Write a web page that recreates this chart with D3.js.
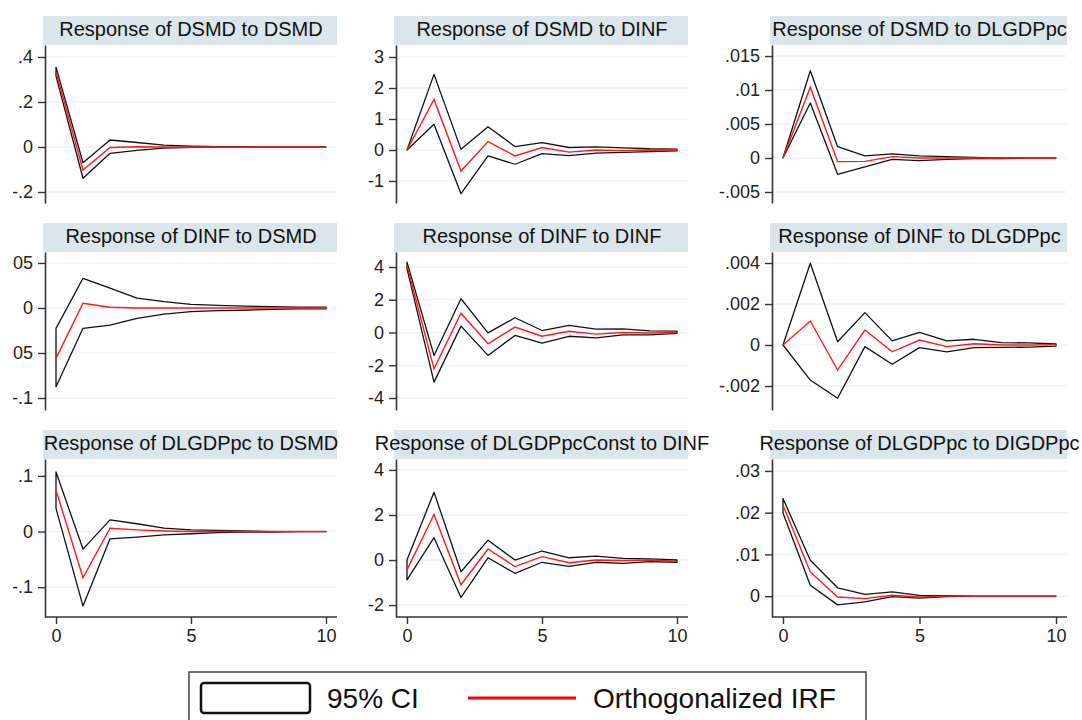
<!DOCTYPE html>
<html>
<head>
<meta charset="utf-8">
<script src="https://cdn.jsdelivr.net/npm/d3@7"></script>
<style>
  body { margin: 0; background: #fff; }
  svg { display: block; font-family: "Liberation Sans", Arial, sans-serif; }
</style>
</head>
<body>
<svg id="chart" width="1082" height="720"></svg>
<script>
// Steps of the impulse response
const steps = [0, 1, 2, 3, 4, 5, 6, 7, 8, 9, 10];

const titles = [
  "Response of DSMD to DSMD", "Response of DSMD to DINF", "Response of DSMD to DLGDPpc",
  "Response of DINF to DSMD", "Response of DINF to DINF", "Response of DINF to DLGDPpc",
  "Response of DLGDPpc to DSMD", "Response of DLGDPpcConst to DINF", "Response of DLGDPpc to DIGDPpc"
];

// Orthogonalized IRF, one list per panel
const oirf = [
  [.335, -.102, -.002, .001, 0, 0, 0, 0, 0, 0, 0],
  [0, 1.63, -.68, .27, -.19, .08, -.07, 0, -.02, 0, -.01],
  [0, .0104, -.00054, -.0005, .0002, 0, 0, 0, 0, 0, 0],
  [-.056, .0052, .0008, 0, 0, 0, 0, 0, 0, 0, 0],
  [4.1, -2.22, 1.18, -.69, .33, -.23, .08, -.1, 0, -.03, 0],
  [0, .00117, -.00122, .00073, -.00033, .00024, -.00008, .00006, 0, 0, .00002],
  [.0744, -.083, .006, .003, .001, 0, 0, 0, 0, 0, 0],
  [-.44, 2.02, -1.1, .49, -.29, .15, -.12, 0, -.02, 0, -.05],
  [.0218, .0058, -.0002, -.0006, .0002, -.0002, 0, 0, 0, 0, 0]
];

// 95% CI lower bound
const ciLower = [
  [.315, -.139, -.028, -.015, -.005, -.002, -.001, 0, 0, 0, 0],
  [0, .83, -1.41, -.19, -.46, -.12, -.18, -.1, -.08, -.05, -.03],
  [0, .0081, -.0024, -.0013, -.0002, -.0004, -.0002, -.0001, -.0001, 0, 0],
  [-.0874, -.0226, -.019, -.0115, -.0067, -.004, -.003, -.0025, -.0015, -.001, -.001],
  [3.9, -3.03, .39, -1.4, -.18, -.65, -.23, -.33, -.15, -.15, -.05],
  [0, -.00171, -.0026, -.00008, -.00094, -.00013, -.00033, -.00013, -.00012, -.0001, -.00005],
  [.0417, -.134, -.013, -.01, -.006, -.004, -.002, -.001, -.001, 0, 0],
  [-.88, .99, -1.66, .1, -.59, -.1, -.28, -.1, -.15, -.07, -.1],
  [.0199, .0026, -.0021, -.0014, -.0001, -.0005, -.0001, 0, 0, 0, 0]
];

// 95% CI upper bound
const ciUpper = [
  [.355, -.07, .031, .02, .008, .004, .002, .001, 0, 0, 0],
  [0, 2.44, .02, .75, .11, .24, .08, .1, .07, .04, .03],
  [0, .01284, .00166, .0003, .0006, .0003, .0002, .0001, 0, 0, 0],
  [-.0226, .033, .022, .011, .007, .004, .003, .002, .0015, .001, .001],
  [4.29, -1.4, 2.06, -.02, .9, .12, .43, .2, .22, .1, .08],
  [0, .00399, .00016, .00158, .0002, .00062, .0002, .00028, .00012, .0001, .00005],
  [.107, -.0315, .021, .014, .006, .003, .002, .001, 0, 0, 0],
  [0, 3.01, -.52, .88, 0, .4, .1, .17, .07, .05, 0],
  [.0234, .0086, .002, .0004, .001, .0002, .0001, 0, 0, 0, 0]
];

const yTicks = [
  [-.2, 0, .2, .4],
  [-1, 0, 1, 2, 3],
  [-.005, 0, .005, .01, .015],
  [-.1, -.05, 0, .05],
  [-4, -2, 0, 2, 4],
  [-.002, 0, .002, .004],
  [-.1, 0, .1],
  [-2, 0, 2, 4],
  [0, .01, .02, .03]
];

const yDomains = [
  [-.2489, .4533], [-1.71, 3.387], [-.00662, .01662],
  [-.1133, .0622], [-4.733, 4.916], [-.00317, .004537],
  [-.1536, .1304], [-2.53, 4.485], [-.005, .03286]
];

const xTicks = [0, 5, 10];
const legendLabels = ["95% CI", "Orthogonalized IRF"];

// Layout
const stripTop = [16, 223, 430];
const stripH = 29;
const plotH = 158;
const colAxisX = [45, 396, 772];
const colW = [292, 292, 295];
const colClipX = [13, 360, 718];
const inset = 11;

const svg = d3.select("#chart");

// Stata-like labels: ".4", "-.005"
function fmt(v) {
  if (v === 0) return "0";
  return String(+v.toPrecision(6)).replace(/^(-?)0\./, "$1.");
}

titles.forEach(function(title, i) {
  const row = Math.floor(i / 3), col = i % 3;
  const left = colAxisX[col], w = colW[col];
  const top = stripTop[row] + stripH;
  const bottom = top + plotH;

  const x = d3.scaleLinear().domain([0, 10]).range([left + inset, left + w - inset]);
  const y = d3.scaleLinear().domain(yDomains[i]).range([bottom, top]);

  const g = svg.append("g");

  // Title strip
  g.append("rect")
    .attr("x", left - 2).attr("y", stripTop[row])
    .attr("width", w + 2).attr("height", stripH)
    .attr("fill", "#dae6ec");
  g.append("text")
    .attr("x", left + w / 2).attr("y", stripTop[row] + 20)
    .attr("text-anchor", "middle")
    .attr("font-size", 20)
    .attr("fill", "#111")
    .text(title);

  // Gridlines
  g.selectAll(".grid")
    .data(yTicks[i])
    .join("line")
    .attr("x1", left).attr("x2", left + w)
    .attr("y1", d => y(d)).attr("y2", d => y(d))
    .attr("stroke", "#e8f0f2")
    .attr("stroke-width", 1.2);

  // CI band outline
  const band = steps.map((s, k) => ({ s: s, lo: ciLower[i][k], hi: ciUpper[i][k], v: oirf[i][k] }));
  g.append("path")
    .datum(band)
    .attr("d", d3.area().x(d => x(d.s)).y0(d => y(d.lo)).y1(d => y(d.hi)))
    .attr("fill", "none")
    .attr("stroke", "#111")
    .attr("stroke-width", 1.3)
    .attr("stroke-linejoin", "round");

  g.append("path")
    .datum(band)
    .attr("d", d3.line().x(d => x(d.s)).y(d => y(d.v)))
    .attr("fill", "none")
    .attr("stroke", "#ff1a1a")
    .attr("stroke-width", 1.4);

  // Y axis (labels clipped at the panel's left edge, as in the source graph)
  const clipId = "clip" + i;
  svg.append("clipPath").attr("id", clipId)
    .append("rect")
    .attr("x", colClipX[col]).attr("y", 0)
    .attr("width", 400).attr("height", 720);

  const ya = g.append("g")
    .attr("clip-path", "url(#" + clipId + ")")
    .append("g")
    .attr("transform", "translate(" + left + ",0)")
    .call(d3.axisLeft(y).tickValues(yTicks[i]).tickFormat(fmt)
      .tickSize(7).tickSizeOuter(0).tickPadding(5));
  ya.select(".domain").attr("stroke", "#333").attr("stroke-width", 1.6);
  ya.selectAll(".tick line").attr("stroke", "#333").attr("stroke-width", 1.4);
  ya.selectAll(".tick text")
    .attr("font-size", 18)
    .attr("font-family", "Liberation Sans, Arial, sans-serif")
    .attr("fill", "#222");

  // X axis only on bottom row
  if (row === 2) {
    const xa = g.append("g")
      .attr("transform", "translate(0," + bottom + ")")
      .call(d3.axisBottom(x).tickValues(xTicks).tickSize(7).tickSizeOuter(0).tickPadding(5));
    xa.select(".domain").remove();
    xa.append("line")
      .attr("x1", left).attr("x2", left + w)
      .attr("stroke", "#333").attr("stroke-width", 1.6);
    xa.selectAll(".tick line").attr("stroke", "#333").attr("stroke-width", 1.4);
    xa.selectAll(".tick text")
      .attr("font-size", 18)
      .attr("font-family", "Liberation Sans, Arial, sans-serif")
      .attr("fill", "#222");
  }
});

// Legend
const lg = svg.append("g");
lg.append("rect")
  .attr("x", 189).attr("y", 672)
  .attr("width", 677).attr("height", 70)
  .attr("fill", "#fff")
  .attr("stroke", "#444")
  .attr("stroke-width", 1.5);
lg.append("rect")
  .attr("x", 201).attr("y", 683)
  .attr("width", 109).attr("height", 30)
  .attr("rx", 3)
  .attr("fill", "#fff")
  .attr("stroke", "#111")
  .attr("stroke-width", 2.5);
lg.append("text")
  .attr("x", 327).attr("y", 708)
  .attr("font-size", 28)
  .attr("fill", "#111")
  .text(legendLabels[0]);
lg.append("line")
  .attr("x1", 468).attr("x2", 576)
  .attr("y1", 698).attr("y2", 698)
  .attr("stroke", "#ff0000")
  .attr("stroke-width", 3);
lg.append("text")
  .attr("x", 593).attr("y", 708)
  .attr("font-size", 28)
  .attr("fill", "#111")
  .text(legendLabels[1]);
</script>
</body>
</html>
